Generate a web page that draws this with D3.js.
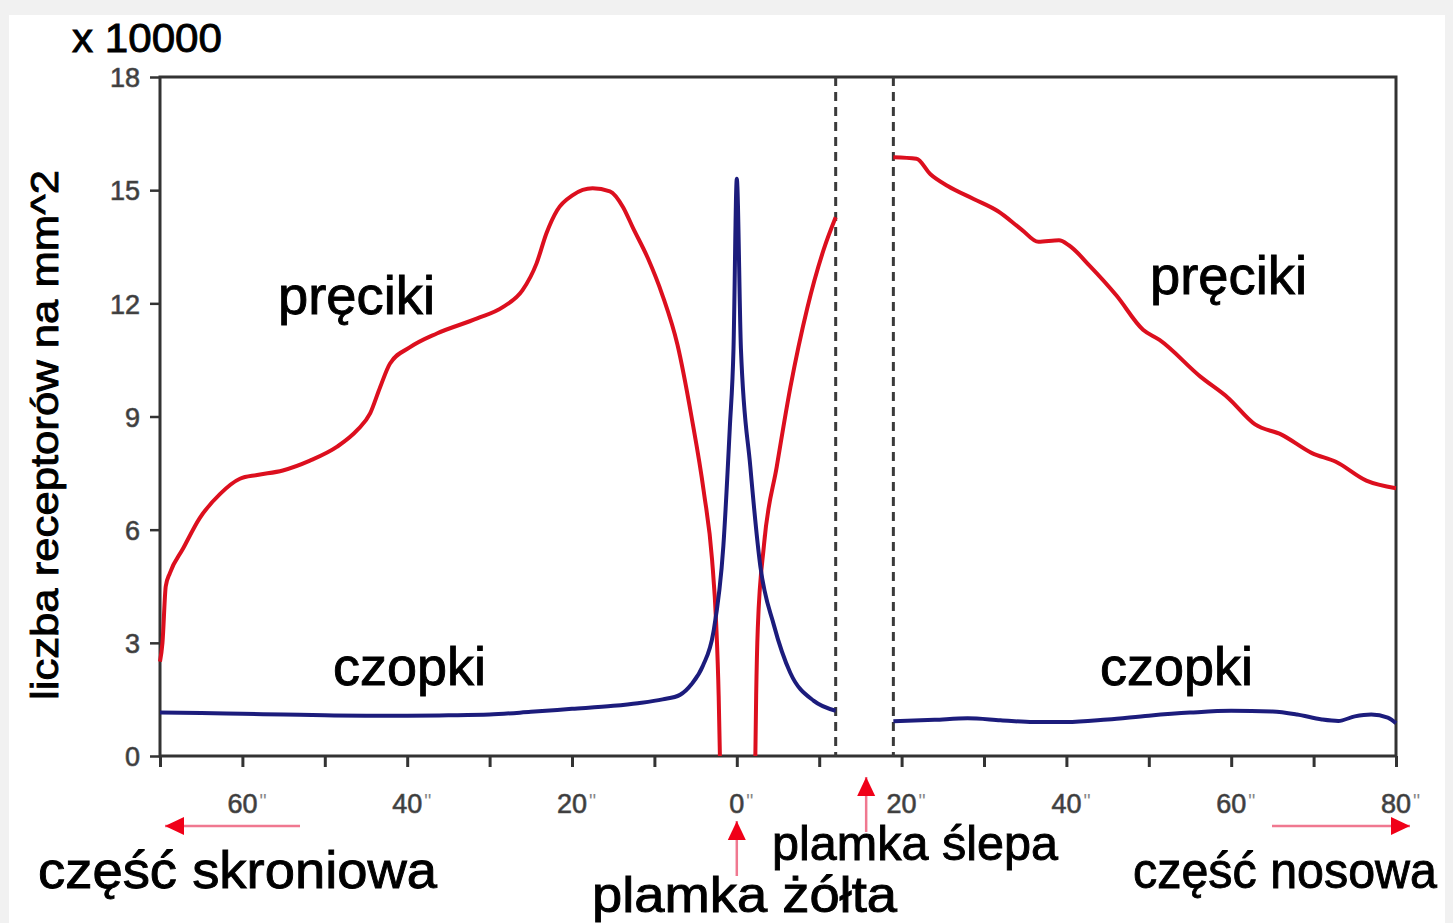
<!DOCTYPE html>
<html><head><meta charset="utf-8">
<script src="https://cdn.jsdelivr.net/npm/d3@7"></script>
<style>
body{margin:0;background:#f1f1f1}
svg{display:block}
text{font-family:"Liberation Sans",Arial,Helvetica,sans-serif}
</style>
</head><body>
<svg id="chart" width="1453" height="923"></svg>
<script>
// ---- data (eccentricity in degrees, density x 10000 per mm^2) ----
const yTickValues = [0, 3, 6, 9, 12, 15, 18];
const xTickValues = [-70, -60, -50, -40, -30, -20, -10, 0, 10, 20, 30, 40, 50, 60, 70, 80];
const xTickLabels = [[-60, "60"], [-40, "40"], [-20, "20"], [0, "0"], [20, "20"], [40, "40"], [60, "60"], [80, "80"]];
const blindSpot = [12, 19];

const rodsTemporal = [[-70,2.5],[-69.7,3.0],[-69.3,4.5],[-68.8,4.85],[-67.2,5.5],[-65.2,6.3],[-62.7,6.95],[-60.3,7.35],
  [-58.2,7.45],[-55.1,7.57],[-51.8,7.83],[-48.5,8.2],[-46.1,8.63],[-44.5,9.08],[-43.3,9.77],[-42.1,10.4],[-39.7,10.83],
  [-36.4,11.2],[-31.5,11.6],[-28.4,11.9],[-26.0,12.35],[-24.3,13.06],[-23.1,13.86],[-21.8,14.47],[-19.9,14.87],
  [-17.5,15.05],[-15.4,14.97],[-13.8,14.55],[-12.6,14.0],[-10.8,13.2],[-9,12.2],[-7.2,10.9],[-5.5,9.0],[-4.0,7.0],
  [-3.0,5.2],[-2.5,3.5],[-2.2,1.6],[-2.05,0]];
const rodsCentralNasal = [[2.25,0],[2.35,1.6],[2.55,3.4],[3.3,5.6],[4.85,7.67],[6.5,9.77],[8.55,11.87],[10.55,13.43],[12,14.28]];
const rodsNasal = [[19,15.87],[21.8,15.83],[23.5,15.42],[25.6,15.11],[28.8,14.76],[31.7,14.44],[34.6,13.95],[36.6,13.63],
  [39.1,13.67],[40.3,13.54],[42.8,13.0],[46.1,12.2],[49.3,11.3],[51.3,11.03],[56.3,10.05],[59.6,9.5],[62.9,8.79],
  [66.1,8.52],[69.8,8.03],[72.7,7.8],[76.4,7.3],[80,7.1]];
const conesCentral = [[-70,1.15],[-65,1.14],[-60,1.12],[-55,1.1],[-50,1.08],[-45,1.07],[-40,1.07],[-35,1.08],[-30,1.1],
  [-25,1.17],[-20,1.25],[-15,1.33],[-12,1.4],[-9,1.5],[-6.9,1.62],[-5.5,1.9],[-4.1,2.4],[-2.85,3.27],[-1.63,5.57],
  [-0.85,8.7],[-0.4,10.8],[0,15.3],[0.5,10.8],[1.64,7.67],[2.85,5.04],[4.5,3.47],[6.5,2.2],[9.35,1.46],[12,1.2]];
const conesNasal = [[19,0.92],[24,0.96],[28,1.0],[32,0.95],[36,0.9],[40,0.9],[45,0.97],[50,1.07],[55,1.15],[60,1.2],
  [65,1.18],[68,1.1],[71,0.97],[73,0.93],[75,1.05],[77,1.1],[79,1.02],[80,0.87]];

// ---- layout ----
const svg = d3.select("#chart");
svg.append("rect").attr("x", 9).attr("y", 15).attr("width", 1436).attr("height", 908).attr("fill", "#fff");

const x = d3.scaleLinear().domain([-70, 80]).range([160, 1396]);
const y = d3.scaleLinear().domain([0, 18]).range([756, 77]);

const axisColor = "#333";
const tickLabelColor = "#3a3a3a";

// frame
svg.append("rect").attr("x", x(-70)).attr("y", y(18)).attr("width", x(80) - x(-70)).attr("height", y(0) - y(18))
  .attr("fill", "none").attr("stroke", axisColor).attr("stroke-width", 3);

// y axis
const gy = svg.append("g").attr("transform", `translate(${x(-70)},0)`)
  .call(d3.axisLeft(y).tickValues(yTickValues).tickSize(10).tickPadding(10).tickFormat(d3.format("d")));
gy.select(".domain").remove();
gy.selectAll(".tick line").attr("stroke", axisColor).attr("stroke-width", 2.5);
gy.selectAll(".tick text").attr("fill", tickLabelColor).attr("stroke", "#555").attr("stroke-width", 0.7)
  .style("font-size", "27px").attr("dy", "0.36em");

// x axis
const gx = svg.append("g").attr("transform", `translate(0,${y(0)})`)
  .call(d3.axisBottom(x).tickValues(xTickValues).tickSize(11).tickFormat(() => ""));
gx.select(".domain").remove();
gx.selectAll(".tick line").attr("stroke", axisColor).attr("stroke-width", 3);

const xl = svg.append("g");
xTickLabels.forEach(([v, s]) => {
  const t = xl.append("text").attr("x", x(v)).attr("y", 813).attr("text-anchor", "middle")
    .attr("fill", tickLabelColor).attr("stroke", "#555").attr("stroke-width", 0.7)
    .style("font-size", "27px").text(s);
  const w = t.node().getComputedTextLength();
  xl.append("text").attr("x", x(v) + w / 2 + 2).attr("y", 808).attr("fill", "#888")
    .style("font-size", "20px").text("\"");
});

// blind spot dashed lines
blindSpot.forEach(v => {
  svg.append("line").attr("x1", x(v)).attr("x2", x(v)).attr("y1", y(18)).attr("y2", y(0))
    .attr("stroke", "#3a3a3a").attr("stroke-width", 3).attr("stroke-dasharray", "9,6");
});

// curves
const line = d3.line().x(d => x(d[0])).y(d => y(d[1])).curve(d3.curveMonotoneX);
const red = "#dc0f1e", blue = "#1c1c7c";
[rodsTemporal, rodsCentralNasal, rodsNasal].forEach(s =>
  svg.append("path").datum(s).attr("d", line).attr("fill", "none").attr("stroke", red)
    .attr("stroke-width", 4).attr("stroke-linejoin", "round"));
[conesCentral, conesNasal].forEach(s =>
  svg.append("path").datum(s).attr("d", line).attr("fill", "none").attr("stroke", blue)
    .attr("stroke-width", 4).attr("stroke-linejoin", "round"));

// texts
function label(txt, xx, yy, size, width, extra) {
  const t = svg.append("text").attr("x", xx).attr("y", yy).style("font-size", size + "px")
    .attr("fill", "#000").attr("stroke", "#000").attr("stroke-width", 0.9).text(txt);
  if (width) t.attr("textLength", width).attr("lengthAdjust", "spacingAndGlyphs");
  if (extra) extra(t);
  return t;
}
label("x 10000", 72, 52, 41, 150);
label("pręciki", 278, 314, 53, 157);
label("pręciki", 1150, 294, 53, 157);
label("czopki", 333, 685, 53, 153);
label("czopki", 1100, 685, 53, 153);
label("część skroniowa", 38, 888, 52, 399);
label("część nosowa", 1133, 888, 50, 304);
label("plamka ślepa", 772, 860, 48, 286);
label("plamka żółta", 592, 912, 50, 305);
label("liczba receptorów na mm^2", 0, 0, 39, 530, t =>
  t.attr("text-anchor", "middle").attr("transform", "translate(58,435) rotate(-90)"));

// arrows
const pink = "#f07890", arrowRed = "#f00018";
function arrow(x1, y1, x2, y2) {
  svg.append("line").attr("x1", x1).attr("y1", y1).attr("x2", x2).attr("y2", y2)
    .attr("stroke", pink).attr("stroke-width", 2.5);
  const ang = Math.atan2(y2 - y1, x2 - x1), L = 19, W = 9;
  const bx = x2 - L * Math.cos(ang), by = y2 - L * Math.sin(ang);
  const px = -Math.sin(ang) * W, py = Math.cos(ang) * W;
  svg.append("path").attr("d", `M${x2},${y2}L${bx + px},${by + py}L${bx - px},${by - py}Z`).attr("fill", arrowRed);
}
arrow(300, 826, 165, 826);
arrow(1272, 826, 1410, 826);
arrow(x(0), 876, x(0), 821);
arrow(x(15.7), 832, x(15.7), 777);
</script>
</body></html>
